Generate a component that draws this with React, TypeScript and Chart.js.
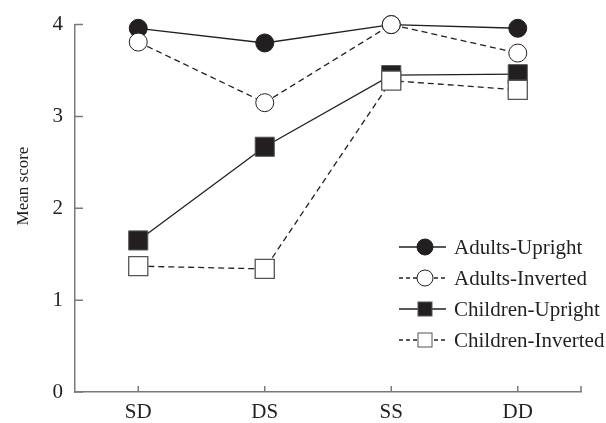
import React, { useEffect, useRef } from "react";
import { Chart, registerables } from "chart.js";

Chart.register(...registerables);

const categories = ["SD", "DS", "SS", "DD"];
const adultsUpright = [3.96, 3.8, 4.0, 3.96];
const adultsInverted = [3.81, 3.15, 4.0, 3.69];
const childrenUpright = [1.65, 2.67, 3.45, 3.46];
const childrenInverted = [1.37, 1.34, 3.39, 3.29];
const yTicks = [0, 1, 2, 3, 4];
const seriesLabels = ["Adults-Upright", "Adults-Inverted", "Children-Upright", "Children-Inverted"];

const INK = "#231f20";
const AXIS = "#7a7a7a";
const FONT = "'Liberation Serif', 'Times New Roman', serif";

const tickPlugin = {
  id: "innerTicks",
  afterDraw(chart: any) {
    const { ctx, chartArea } = chart;
    const x = chart.scales.x;
    const y = chart.scales.y;
    ctx.save();
    ctx.strokeStyle = AXIS;
    ctx.lineWidth = 1.5;
    ctx.beginPath();
    yTicks.forEach((v) => {
      const py = y.getPixelForValue(v);
      ctx.moveTo(chartArea.left, py);
      ctx.lineTo(chartArea.left + 8, py);
    });
    categories.forEach((_, i) => {
      const px = x.getPixelForValue(i);
      ctx.moveTo(px, chartArea.bottom);
      ctx.lineTo(px, chartArea.bottom - 6);
    });
    ctx.moveTo(chartArea.right, chartArea.bottom);
    ctx.lineTo(chartArea.right, chartArea.bottom - 6);
    ctx.stroke();

    // y title
    ctx.fillStyle = INK;
    ctx.font = `17px ${FONT}`;
    ctx.translate(24, 186);
    ctx.rotate(-Math.PI / 2);
    ctx.textAlign = "center";
    ctx.textBaseline = "middle";
    ctx.fillText("Mean score", 0, 0);
    ctx.restore();
  },
};

const legendPlugin = {
  id: "lineLegend",
  afterDraw(chart: any) {
    const { ctx } = chart;
    const opts = chart.options.plugins.lineLegend;
    const x0 = opts.x;
    const y0 = opts.y;
    const gap = opts.gap;
    ctx.save();
    seriesLabels.forEach((name, row) => {
      const ds = chart.data.datasets.find((d: any) => d.label === name);
      const cy = y0 + row * gap;
      ctx.strokeStyle = INK;
      ctx.lineWidth = 1.3;
      ctx.setLineDash(ds.borderDash && ds.borderDash.length ? [4, 3] : []);
      ctx.beginPath();
      ctx.moveTo(x0, cy);
      ctx.lineTo(x0 + 47, cy);
      ctx.stroke();
      ctx.setLineDash([]);
      const cx = x0 + 26;
      ctx.fillStyle = ds.pointBackgroundColor;
      ctx.strokeStyle = ds.pointBorderColor;
      ctx.lineWidth = 1;
      if (ds.pointStyle === "circle") {
        ctx.beginPath();
        ctx.arc(cx, cy, 8, 0, Math.PI * 2);
        ctx.fill();
        ctx.stroke();
      } else {
        ctx.fillRect(cx - 7, cy - 7, 14, 14);
        ctx.strokeRect(cx - 7, cy - 7, 14, 14);
      }
      ctx.fillStyle = INK;
      ctx.font = `21px ${FONT}`;
      ctx.textAlign = "left";
      ctx.textBaseline = "middle";
      ctx.fillText(ds.label, x0 + 55, cy + 1);
    });
    ctx.restore();
  },
};

export default function App() {
  const ref = useRef<HTMLCanvasElement | null>(null);
  useEffect(() => {
    document.body.style.margin = "0";
    if (!ref.current) return;
    const common = { borderColor: INK, borderWidth: 1.3, fill: false, tension: 0, clip: false as any };
    const chart = new Chart(ref.current, {
      type: "line",
      data: {
        labels: categories,
        datasets: [
          {
            ...common,
            label: seriesLabels[0],
            data: adultsUpright,
            pointStyle: "circle",
            pointRadius: 9,
            pointBackgroundColor: INK,
            pointBorderColor: INK,
            pointBorderWidth: 1,
            borderDash: [],
            order: 2,
          },
          {
            ...common,
            label: seriesLabels[1],
            data: adultsInverted,
            pointStyle: "circle",
            pointRadius: 9,
            pointBackgroundColor: "#ffffff",
            pointBorderColor: INK,
            pointBorderWidth: 1,
            borderDash: [6, 4],
            order: 0,
          },
          {
            ...common,
            label: seriesLabels[2],
            data: childrenUpright,
            pointStyle: "rect",
            pointRadius: 13.5,
            pointBackgroundColor: INK,
            pointBorderColor: "#555555",
            pointBorderWidth: 1,
            borderDash: [],
            order: 3,
          },
          {
            ...common,
            label: seriesLabels[3],
            data: childrenInverted,
            pointStyle: "rect",
            pointRadius: 13.5,
            pointBackgroundColor: "#ffffff",
            pointBorderColor: "#555555",
            pointBorderWidth: 1.3,
            borderDash: [6, 4],
            order: 1,
          },
        ],
      },
      options: {
        animation: false,
        responsive: false,
        layout: { padding: { left: 0, right: 25, top: 22, bottom: 0 } },
        plugins: {
          legend: { display: false },
          tooltip: { enabled: false },
          lineLegend: { x: 399, y: 247, gap: 31 },
        } as any,
        scales: {
          x: {
            type: "category",
            offset: true,
            grid: { display: true, drawOnChartArea: false, drawTicks: false },
            border: { display: true, color: AXIS, width: 1.5 },
            ticks: { color: INK, font: { family: FONT, size: 21 }, padding: 8 },
            afterFit: (s: any) => {
              s.height = 31;
            },
          },
          y: {
            min: 0,
            max: 4,
            grid: { display: true, drawOnChartArea: false, drawTicks: false },
            border: { display: true, color: AXIS, width: 1.5 },
            ticks: { stepSize: 1, color: INK, font: { family: FONT, size: 21 }, padding: 12 },
            afterFit: (s: any) => {
              s.width = 75;
            },
          },
        },
      },
      plugins: [tickPlugin, legendPlugin],
    });
    return () => chart.destroy();
  }, []);
  return <canvas ref={ref} width={606} height={423} style={{ display: "block" }} />;
}
